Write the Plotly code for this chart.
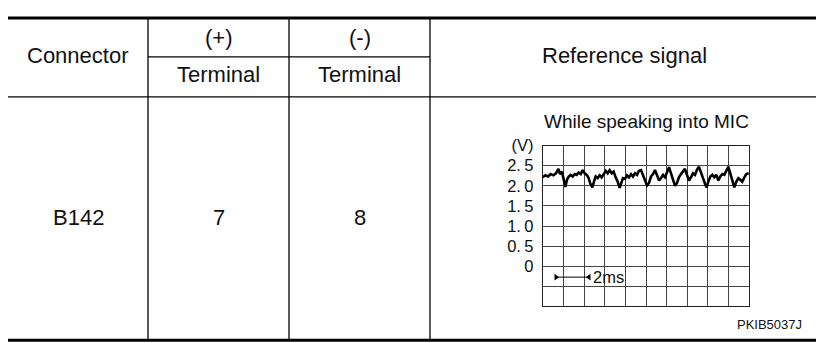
import plotly.graph_objects as go

W, H = 824, 343
OFF = 8  # page body margin: figure is drawn 8px right/down of the window origin

# ---- table content ----
header_top = "Connector"
plus_label = "(+)"
minus_label = "(-)"
terminal_label = "Terminal"
ref_label = "Reference signal"
connector = "B142"
plus_terminal = "7"
minus_terminal = "8"
condition = "While speaking into MIC"
image_code = "PKIB5037J"

# ---- waveform (time in ms, voltage in V) ----
t_ms = [0.00, 0.26, 0.52, 0.77, 1.03, 1.29, 1.52, 1.68, 1.87, 2.06, 2.19, 2.35, 2.52, 2.71, 2.90,
        3.10, 3.29, 3.48, 3.68, 3.87, 4.06, 4.26, 4.45, 4.61, 4.81, 4.97, 5.13, 5.32, 5.52, 5.71,
        5.90, 6.10, 6.29, 6.48, 6.68, 6.87, 7.06, 7.26, 7.45, 7.61, 7.77, 7.97, 8.16, 8.35, 8.55,
        8.74, 8.94, 9.13, 9.32, 9.52, 9.71, 9.90, 10.10, 10.29, 10.48, 10.68, 10.87, 11.06, 11.26,
        11.45, 11.65, 11.84, 12.03, 12.23, 12.42, 12.61, 12.81, 13.00, 13.19, 13.39, 13.58, 13.77,
        13.97, 14.16, 14.35, 14.55, 14.74, 14.94, 15.13, 15.32, 15.52, 15.71, 15.87, 16.03, 16.23,
        16.42, 16.61, 16.81, 17.00, 17.19, 17.39, 17.58, 17.77, 17.97, 18.16, 18.35, 18.55, 18.74,
        18.94, 19.13, 19.32, 19.52, 19.71, 19.94]
volts = [2.21, 2.26, 2.23, 2.29, 2.26, 2.31, 2.42, 2.29, 2.35, 2.11, 1.97, 2.15, 2.23, 2.27, 2.23,
         2.29, 2.27, 2.33, 2.29, 2.39, 2.31, 2.27, 2.19, 2.05, 1.96, 2.11, 2.23, 2.19, 2.26, 2.21,
         2.29, 2.37, 2.31, 2.39, 2.31, 2.35, 2.21, 2.10, 1.95, 2.05, 2.19, 2.17, 2.26, 2.21, 2.29,
         2.23, 2.31, 2.27, 2.37, 2.39, 2.27, 2.15, 2.01, 2.07, 2.23, 2.29, 2.39, 2.27, 2.13,
         2.19, 2.27, 2.21, 2.35, 2.46, 2.31, 2.15, 2.00, 2.07, 2.21, 2.29, 2.37, 2.42,
         2.27, 2.13, 2.21, 2.31, 2.27, 2.40, 2.47, 2.35, 2.19, 2.05, 1.96, 2.10, 2.23,
         2.27, 2.21, 2.27, 2.13, 2.23, 2.29, 2.27, 2.37, 2.47, 2.31, 2.13, 1.96, 2.10,
         2.19, 2.15, 2.10, 2.21, 2.29, 2.31]

y_tickvals = [-1.0, -0.5, 0.0, 0.5, 1.0, 1.5, 2.0, 2.5, 3.0]
y_ticktext = ["", "", "0", "0.\u20095", "1.\u20090", "1.\u20095", "2.\u20090", "2.\u20095", "(V)"]
x_tickvals = [0, 2, 4, 6, 8, 10, 12, 14, 16, 18, 20]

scale_ms = [1.29, 4.48]
scale_v = [-0.27, -0.27]
scale_text = "2ms"


def px(x):
    """screen x (window pixels) -> paper fraction"""
    return (x - OFF) / W


def py(y):
    """screen y (window pixels) -> paper fraction"""
    return 1 - (y - OFF) / H


SANS = "Liberation Sans, Arial, Helvetica, sans-serif"
HEAD_FONT = dict(family=SANS, size=22, color="#111")
TITLE_FONT = dict(family=SANS, size=19, color="#111")
SCOPE_FONT = dict(family=SANS, size=16.5, color="#111")

fig = go.Figure()

fig.add_trace(go.Scatter(x=t_ms, y=volts, mode="lines",
                         line=dict(color="black", width=2.6), hoverinfo="skip",
                         showlegend=False))
# 2ms scale bar
fig.add_trace(go.Scatter(x=scale_ms, y=scale_v, mode="lines+markers",
                         line=dict(color="black", width=1),
                         marker=dict(symbol=["triangle-right", "triangle-left"], size=6,
                                     color="black"),
                         hoverinfo="skip", showlegend=False))

gx0, gx1 = 542.7, 749.3
gy0, gy1 = 140.0, 305.3

fig.update_layout(
    width=W, height=H,
    margin=dict(l=0, r=0, t=0, b=0),
    paper_bgcolor="white", plot_bgcolor="white",
    showlegend=False,
    xaxis=dict(domain=[px(gx0), px(gx1)], range=[0, 20], tickvals=x_tickvals,
               showticklabels=False, showgrid=True, gridcolor="#444", gridwidth=1,
               zeroline=False, showline=True, linecolor="#222", linewidth=1, mirror=True,
               fixedrange=True),
    yaxis=dict(domain=[py(gy1), py(gy0)], range=[-1, 3], tickvals=y_tickvals,
               ticktext=y_ticktext, showgrid=True, gridcolor="#444", gridwidth=1,
               zeroline=False, showline=True, linecolor="#222", linewidth=1, mirror=True,
               ticks="", ticklabelstandoff=5, tickfont=SCOPE_FONT, fixedrange=True),
)

shapes = []


def hline(x0, x1, y, w):
    shapes.append(dict(type="line", xref="paper", yref="paper", x0=px(x0), x1=px(x1),
                       y0=py(y), y1=py(y), line=dict(color="black", width=w)))


def vline(x, y0, y1, w):
    shapes.append(dict(type="line", xref="paper", yref="paper", x0=px(x), x1=px(x),
                       y0=py(y0), y1=py(y1), line=dict(color="black", width=w)))


hline(8, 819, 9.0, 3)
hline(148, 430, 49, 1.3)
hline(8, 819, 90, 1.3)
hline(8, 819, 340, 3)
for xv in (148, 289, 430):
    vline(xv, 9, 340, 1.3)
fig.update_layout(shapes=shapes)


def text(s, x, y, font, xanchor="center"):
    fig.add_annotation(text=s, x=px(x), y=py(y), xref="paper", yref="paper",
                       showarrow=False, xanchor=xanchor, yanchor="middle", font=font)


text(header_top, 78, 48, HEAD_FONT)
text(plus_label, 218.5, 29.5, HEAD_FONT)
text(minus_label, 359.5, 29.5, HEAD_FONT)
text(terminal_label, 218.5, 67, HEAD_FONT)
text(terminal_label, 359.5, 67, HEAD_FONT)
text(ref_label, 624, 48, HEAD_FONT)
text(connector, 78, 214, HEAD_FONT)
text(plus_terminal, 218.5, 214, HEAD_FONT)
text(minus_terminal, 359.5, 214, HEAD_FONT)
text(condition, 646, 115, TITLE_FONT)
text(image_code, 804, 324, dict(family=SANS, size=13, color="#111"), xanchor="right")
fig.add_annotation(text=scale_text, x=4.7, y=-0.27, xref="x", yref="y", showarrow=False,
                   xanchor="left", yanchor="middle", font=SCOPE_FONT)

fig.write_html("out.html")
